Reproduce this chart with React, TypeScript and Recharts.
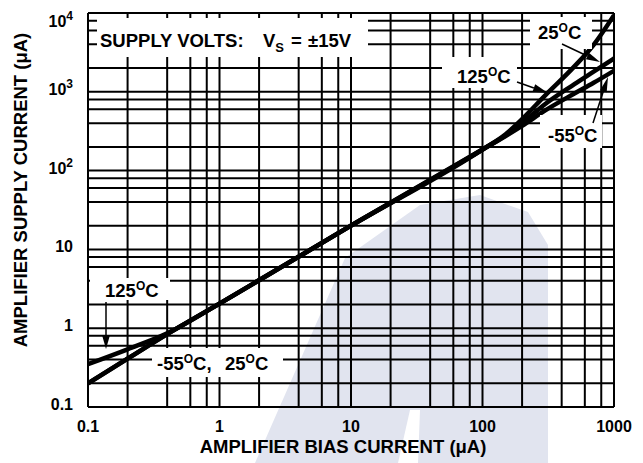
import React from "react";
import { LineChart, Line, XAxis, YAxis, ReferenceLine } from "recharts";

// values (µA, log-log)
const biasCurrent = [0.1, 0.2, 0.4, 1, 10, 100, 150, 200, 300, 500, 700, 1000];
const supply125 = [0.35, 0.54, 0.86, 2.05, 20, 185, 290, 450, 900, 2100, 3950, 9400];
const supply25 = [0.2, 0.41, 0.84, 2.05, 20, 185, 280, 400, 700, 1250, 1800, 2650];
const supplyMinus55 = [0.2, 0.41, 0.84, 2.05, 20, 185, 275, 370, 580, 950, 1300, 1850];

const xTicks = [0.1, 1, 10, 100, 1000];
const xTickLabels = ["0.1", "1", "10", "100", "1000"];
const yTicks = [0.1, 1, 10, 100, 1000, 10000];
const yTickBase = ["0.1", "1", "10", "10", "10", "10"];
const yTickExp = ["", "", "", "2", "3", "4"];

const xGrid = [0.2, 0.4, 0.6, 0.8, 1, 2, 4, 6, 8, 10, 20, 40, 60, 80, 100, 200, 400, 600, 800];
const yGrid = [0.2, 0.4, 0.6, 0.8, 1, 2, 4, 6, 8, 10, 20, 40, 60, 80, 100, 200, 400, 600, 800, 1000, 2000, 4000, 6000, 8000];

const data = biasCurrent.map((x, i) => ({
  x,
  t125: supply125[i],
  t25: supply25[i],
  tm55: supplyMinus55[i],
}));

const FONT = "'Liberation Sans', Arial, Helvetica, sans-serif";
const LABEL_SIZE = 18.5;

function XTick(props: any) {
  const { x, payload } = props;
  const i = xTicks.indexOf(payload.value);
  return (
    <text x={x} y={432} textAnchor="middle" fontFamily={FONT} fontWeight="bold" fontSize={16} fill="#000">
      {xTickLabels[i]}
    </text>
  );
}

function YTick(props: any) {
  const { y, payload } = props;
  const i = yTicks.indexOf(payload.value);
  const dy = payload.value === 10000 ? 14 : 3;
  return (
    <text x={73} y={y + dy} textAnchor="end" fontFamily={FONT} fontWeight="bold" fontSize={16} fill="#000">
      {yTickBase[i]}
      {yTickExp[i] && (
        <tspan dy={-7} fontSize={12}>
          {yTickExp[i]}
        </tspan>
      )}
    </text>
  );
}

function Arrow({ x1, y1, x2, y2, len = 14, half = 3.5 }: any) {
  const a = Math.atan2(y2 - y1, x2 - x1);
  const bx = x2 - len * Math.cos(a);
  const by = y2 - len * Math.sin(a);
  const px = -Math.sin(a) * half;
  const py = Math.cos(a) * half;
  return (
    <g>
      <line x1={x1} y1={y1} x2={bx} y2={by} stroke="#000" strokeWidth={1.5} />
      <polygon points={`${x2},${y2} ${bx + px},${by + py} ${bx - px},${by - py}`} fill="#000" />
    </g>
  );
}

function Deg({ x, y, n }: any) {
  return (
    <text x={x} y={y} fontFamily={FONT} fontWeight="bold" fontSize={LABEL_SIZE} fill="#000">
      {n}
      <tspan dy={-7} fontSize={12}>O</tspan>
      <tspan dy={7}>C</tspan>
    </text>
  );
}

export default function App() {
  return (
    <div style={{ position: "absolute", left: 0, top: 0, width: 643, height: 463, background: "#fff", overflow: "hidden" }}>
      {/* watermark */}
      <svg width={643} height={463} style={{ position: "absolute", left: 0, top: 0 }}>
        <polygon points="255,463 345,258 420,205 480,195 528,212 548,245 548,463" fill="#e1e4ef" />
        <polygon points="398,463 410,410 420,410 418,463" fill="#ffffff" />
      </svg>
      <div style={{ position: "absolute", left: 0, top: 0 }}>
        <LineChart width={643} height={463} data={data} margin={{ top: 13, right: 29, bottom: 0, left: 0 }}>
          <XAxis
            dataKey="x"
            type="number"
            scale="log"
            domain={[0.1, 1000]}
            allowDataOverflow
            ticks={xTicks}
            tick={<XTick />}
            tickLine={false}
            axisLine={{ stroke: "#000", strokeWidth: 2 }}
            height={56}
            interval={0}
          />
          <YAxis
            type="number"
            scale="log"
            domain={[0.1, 10000]}
            allowDataOverflow
            ticks={yTicks}
            tick={<YTick />}
            tickLine={false}
            axisLine={{ stroke: "#000", strokeWidth: 2 }}
            width={88}
            interval={0}
          />
          {xGrid.map((v) => (
            <ReferenceLine key={`vx${v}`} x={v} stroke="#000" strokeWidth={2} />
          ))}
          {yGrid.map((v) => (
            <ReferenceLine key={`hy${v}`} y={v} stroke="#000" strokeWidth={2} />
          ))}
          <ReferenceLine x={1000} stroke="#000" strokeWidth={2} />
          <ReferenceLine y={10000} stroke="#000" strokeWidth={2} />
          <Line type="monotone" dataKey="tm55" stroke="#000" strokeWidth={4.5} dot={false} isAnimationActive={false} />
          <Line type="monotone" dataKey="t25" stroke="#000" strokeWidth={4.5} dot={false} isAnimationActive={false} />
          <Line type="monotone" dataKey="t125" stroke="#000" strokeWidth={4.5} dot={false} isAnimationActive={false} />
        </LineChart>
      </div>
      {/* annotations */}
      <svg width={643} height={463} style={{ position: "absolute", left: 0, top: 0, pointerEvents: "none" }}>
        <rect x={97} y={18} width={271} height={39} fill="#fff" />
        <rect x={530} y={17} width={62} height={32} fill="#fff" />
        <rect x={442} y={57} width={75} height={31} fill="#fff" />
        <rect x={540} y={115} width={62} height={33} fill="#fff" />
        <rect x={90} y={278} width={80} height={22} fill="#fff" />
        <rect x={152} y={348} width={131} height={29} fill="#fff" />

        <text x={100} y={47} fontFamily={FONT} fontWeight="bold" fontSize={LABEL_SIZE} fill="#000">
          SUPPLY VOLTS:
          <tspan x={263}>V</tspan>
          <tspan dy={5} fontSize={13}>S</tspan>
          <tspan dy={-5} x={291}>=</tspan>
          <tspan x={308}>±15V</tspan>
        </text>

        <Deg x={538} y={39} n="25" />
        <Deg x={457} y={83} n="125" />
        <Deg x={548} y={142} n="-55" />
        <Deg x={105} y={297} n="125" />
        <text x={157} y={370} fontFamily={FONT} fontWeight="bold" fontSize={LABEL_SIZE} fill="#000">
          -55
          <tspan dy={-7} fontSize={12}>O</tspan>
          <tspan dy={7}>C,</tspan>
          <tspan x={225}>25</tspan>
          <tspan dy={-7} fontSize={12}>O</tspan>
          <tspan dy={7}>C</tspan>
        </text>

        <Arrow x1={517} y1={82} x2={548} y2={93} len={15} half={4} />
        <Arrow x1={562} y1={44} x2={600} y2={62} len={14} half={3.5} />
        <Arrow x1={593} y1={123} x2={608} y2={77} len={15} half={3.5} />
        <Arrow x1={106} y1={302} x2={106} y2={349} len={14} half={4} />

        <text x={343} y={453} textAnchor="middle" fontFamily={FONT} fontWeight="bold" fontSize={LABEL_SIZE} fill="#000">
          AMPLIFIER BIAS CURRENT (μA)
        </text>
        <text
          x={27}
          y={190}
          transform="rotate(-90 27 190)"
          textAnchor="middle"
          fontFamily={FONT}
          fontWeight="bold"
          fontSize={LABEL_SIZE}
          fill="#000"
        >
          AMPLIFIER SUPPLY CURRENT (μA)
        </text>
      </svg>
    </div>
  );
}
